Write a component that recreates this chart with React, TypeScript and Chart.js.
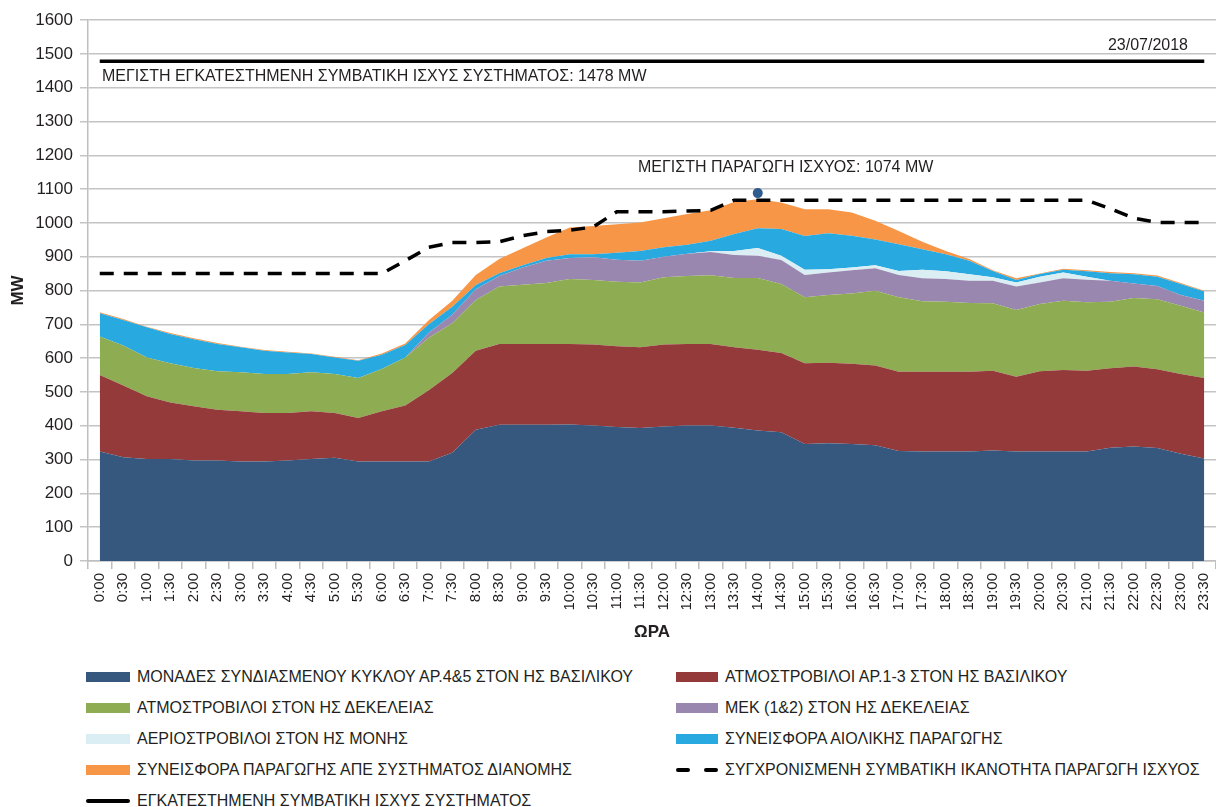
import React, { useEffect, useRef } from "react";
import { Chart, registerables } from "chart.js";

Chart.register(...registerables);

const FONT = "'Liberation Sans', Arial, sans-serif";
const TEXT = "#231F20";

const timeLabels = [
  "0:00", "0:30", "1:00", "1:30", "2:00", "2:30", "3:00", "3:30", "4:00", "4:30", "5:00", "5:30",
  "6:00", "6:30", "7:00", "7:30", "8:00", "8:30", "9:00", "9:30", "10:00", "10:30", "11:00", "11:30",
  "12:00", "12:30", "13:00", "13:30", "14:00", "14:30", "15:00", "15:30", "16:00", "16:30", "17:00", "17:30",
  "18:00", "18:30", "19:00", "19:30", "20:00", "20:30", "21:00", "21:30", "22:00", "22:30", "23:00", "23:30",
];

const ccgtVasilikos = [
  324, 307, 302, 302, 297, 297, 294, 294, 297, 302, 305, 294,
  294, 294, 294, 320, 388, 403, 403, 403, 404, 401, 396, 393,
  398, 401, 401, 394, 386, 381, 346, 348, 346, 342, 325, 324,
  324, 324, 327, 324, 324, 324, 324, 335, 339, 334, 317, 303,
];
const steamVasilikos = [
  226, 212, 185, 167, 161, 150, 149, 144, 141, 141, 133, 129,
  149, 166, 211, 236, 234, 239, 239, 239, 238, 239, 239, 239,
  242, 241, 241, 238, 239, 234, 239, 238, 237, 236, 235, 236,
  236, 236, 236, 221, 237, 241, 239, 235, 236, 233, 236, 238,
];
const steamDekeleia = [
  114, 118, 115, 116, 113, 114, 115, 115, 115, 115, 115, 118,
  125, 142, 155, 147, 150, 170, 175, 180, 192, 191, 191, 192,
  199, 201, 203, 205, 212, 204, 195, 201, 208, 221, 220, 208,
  207, 203, 199, 197, 199, 205, 202, 197, 203, 207, 202, 194,
];
const mekDekeleia = [
  0, 0, 0, 0, 0, 0, 0, 0, 0, 0, 0, 0,
  0, 0, 15, 25, 32, 31, 51, 66, 62, 67, 65, 64,
  61, 66, 69, 68, 66, 71, 66, 66, 69, 67, 66, 68,
  67, 66, 67, 70, 64, 66, 67, 62, 43, 39, 32, 35,
];
const gasMonis = [
  0, 0, 0, 0, 0, 0, 0, 0, 0, 0, 0, 0,
  0, 0, 0, 0, 0, 0, 0, 0, 0, 0, 0, 0,
  0, 0, 2, 12, 23, 13, 15, 10, 8, 9, 12, 25,
  23, 19, 10, 12, 17, 17, 9, 0, 0, 0, 0, 0,
];
const windContribution = [
  69, 76, 89, 86, 85, 81, 74, 69, 64, 54, 49, 51,
  42, 37, 25, 24, 12, 8, 7, 8, 11, 9, 21, 29,
  28, 26, 31, 50, 58, 79, 100, 106, 94, 76, 79, 61,
  50, 40, 19, 7, 8, 8, 16, 22, 27, 28, 32, 27,
];
const distributionContribution = [
  3, 3, 2, 3, 3, 3, 2, 2, 2, 2, 2, 2,
  4, 4, 12, 18, 30, 42, 50, 61, 79, 84, 84, 84,
  86, 91, 90, 95, 86, 78, 79, 71, 69, 55, 39, 22,
  10, 5, 2, 5, 1, 3, 3, 4, 3, 3, 3, 2,
];
const synchronizedCapacity = [
  850, 850, 850, 850, 850, 850, 850, 850, 850, 850, 850, 850,
  850, 888, 928, 942, 942, 944, 962, 974, 978, 988, 1033, 1033,
  1033, 1035, 1037, 1067, 1067, 1067, 1067, 1067, 1067, 1067, 1067, 1067,
  1067, 1067, 1067, 1067, 1067, 1067, 1067, 1042, 1014, 1001, 1001, 1001,
];
const installedCapacity = [
  1478, 1478, 1478, 1478, 1478, 1478, 1478, 1478, 1478, 1478, 1478, 1478,
  1478, 1478, 1478, 1478, 1478, 1478, 1478, 1478, 1478, 1478, 1478, 1478,
  1478, 1478, 1478, 1478, 1478, 1478, 1478, 1478, 1478, 1478, 1478, 1478,
  1478, 1478, 1478, 1478, 1478, 1478, 1478, 1478, 1478, 1478, 1478, 1478,
];
const peakMarkerIndex = 28;
const peakMarkerValue = 1088;

const areaSeries = [
  { label: "ΜΟΝΑΔΕΣ ΣΥΝΔΙΑΣΜΕΝΟΥ ΚΥΚΛΟΥ ΑΡ.4&5 ΣΤΟΝ ΗΣ ΒΑΣΙΛΙΚΟΥ", data: ccgtVasilikos, color: "#36587F" },
  { label: "ΑΤΜΟΣΤΡΟΒΙΛΟΙ ΑΡ.1-3 ΣΤΟΝ ΗΣ ΒΑΣΙΛΙΚΟΥ", data: steamVasilikos, color: "#943A3B" },
  { label: "ΑΤΜΟΣΤΡΟΒΙΛΟΙ ΣΤΟΝ ΗΣ ΔΕΚΕΛΕΙΑΣ", data: steamDekeleia, color: "#8EAC52" },
  { label: "ΜΕΚ (1&2) ΣΤΟΝ ΗΣ ΔΕΚΕΛΕΙΑΣ", data: mekDekeleia, color: "#9A87B0" },
  { label: "ΑΕΡΙΟΣΤΡΟΒΙΛΟΙ ΣΤΟΝ ΗΣ ΜΟΝΗΣ", data: gasMonis, color: "#DAEEF4" },
  { label: "ΣΥΝΕΙΣΦΟΡΑ ΑΙΟΛΙΚΗΣ ΠΑΡΑΓΩΓΗΣ", data: windContribution, color: "#28AAE1" },
  { label: "ΣΥΝΕΙΣΦΟΡΑ ΠΑΡΑΓΩΓΗΣ ΑΠΕ ΣΥΣΤΗΜΑΤΟΣ ΔΙΑΝΟΜΗΣ", data: distributionContribution, color: "#F79646" },
];
const capacityLabel = "ΣΥΓΧΡΟΝΙΣΜΕΝΗ ΣΥΜΒΑΤΙΚΗ ΙΚΑΝΟΤΗΤΑ ΠΑΡΑΓΩΓΗ ΙΣΧΥΟΣ";
const installedLabel = "ΕΓΚΑΤΕΣΤΗΜΕΝΗ ΣΥΜΒΑΤΙΚΗ ΙΣΧΥΣ ΣΥΣΤΗΜΑΤΟΣ";

const annotationPlugin = {
  id: "annotations",
  afterDatasetsDraw(chart: any) {
    const { ctx } = chart;
    const y = chart.scales.y;
    ctx.save();
    ctx.fillStyle = TEXT;
    ctx.font = `16px ${FONT}`;
    ctx.textBaseline = "middle";
    ctx.textAlign = "left";
    ctx.fillText("ΜΕΓΙΣΤΗ ΕΓΚΑΤΕΣΤΗΜΕΝΗ ΣΥΜΒΑΤΙΚΗ ΙΣΧΥΣ ΣΥΣΤΗΜΑΤΟΣ: 1478 MW", 102, y.getPixelForValue(1434));
    ctx.fillText("ΜΕΓΙΣΤΗ ΠΑΡΑΓΩΓΗ ΙΣΧΥΟΣ: 1074 MW", 638, y.getPixelForValue(1163));
    ctx.textAlign = "right";
    ctx.fillText("23/07/2018", 1188, y.getPixelForValue(1525));
    ctx.restore();
  },
};

function ChartCanvas() {
  const ref = useRef<HTMLCanvasElement | null>(null);
  useEffect(() => {
    if (!ref.current) return;
    const datasets: any[] = areaSeries.map((s, i) => ({
      type: "line",
      label: s.label,
      data: s.data,
      backgroundColor: s.color,
      borderColor: s.color,
      borderWidth: 0,
      pointRadius: 0,
      fill: i === 0 ? "origin" : "-1",
      stack: "generation",
      order: 2,
      tension: 0,
    }));
    datasets.push({
      type: "line",
      label: capacityLabel,
      data: synchronizedCapacity,
      borderColor: "#000000",
      borderWidth: 3.5,
      borderDash: [14, 10],
      pointRadius: 0,
      fill: false,
      stack: "capacity",
      order: 0,
    });
    datasets.push({
      type: "line",
      label: installedLabel,
      data: installedCapacity,
      borderColor: "#000000",
      borderWidth: 3.5,
      pointRadius: 0,
      fill: false,
      stack: "installed",
      order: 0,
    });
    datasets.push({
      type: "line",
      label: "peak",
      data: timeLabels.map((_, i) => (i === peakMarkerIndex ? peakMarkerValue : null)),
      showLine: false,
      pointRadius: 5,
      pointBackgroundColor: "#2F5C8E",
      pointBorderWidth: 0,
      fill: false,
      stack: "marker",
      order: 0,
    });

    const chart = new Chart(ref.current, {
      type: "line",
      data: { labels: timeLabels, datasets },
      options: {
        responsive: false,
        animation: false,
        layout: { autoPadding: false, padding: { top: 20, left: 0, right: 0, bottom: 0 } },
        plugins: {
          legend: { display: false },
          tooltip: { enabled: false },
        },
        scales: {
          x: {
            type: "category",
            offset: true,
            grid: {
              display: true,
              drawOnChartArea: false,
              drawTicks: true,
              tickLength: 8,
              offset: true,
              color: "#BFBFBF",
              lineWidth: 1.5,
            },
            border: { display: true, color: "#BFBFBF", width: 1.5 },
            ticks: {
              autoSkip: false,
              minRotation: 90,
              maxRotation: 90,
              padding: 4,
              color: TEXT,
              font: { family: FONT, size: 15 },
            },
            title: {
              display: true,
              text: "ΩΡΑ",
              color: TEXT,
              font: { family: FONT, size: 17, weight: "bold" },
              padding: { top: 0, bottom: 7 },
            },
            afterFit: (s: any) => {
              s.height = 89;
              s.paddingLeft = 0;
              s.paddingRight = 0;
            },
          },
          y: {
            stacked: true,
            min: 0,
            max: 1600,
            grid: { color: "#C4C4C4", lineWidth: 1.5, tickLength: 8, drawTicks: true },
            border: { display: true, color: "#BFBFBF", width: 1.5 },
            ticks: {
              stepSize: 100,
              padding: 7,
              color: TEXT,
              font: { family: FONT, size: 17 },
              callback: (v: any) => String(v),
            },
            title: {
              display: true,
              text: "MW",
              color: TEXT,
              font: { family: FONT, size: 17, weight: "bold" },
              padding: { top: 8, bottom: 0 },
            },
            afterFit: (s: any) => {
              s.width = 88;
            },
          },
        },
      },
      plugins: [annotationPlugin],
    } as any);
    return () => chart.destroy();
  }, []);
  return <canvas ref={ref} width={1216} height={650} style={{ display: "block" }} />;
}

type LegendItem = { label: string; color: string; kind: "box" | "dash" | "line" };

const legendRows: LegendItem[][] = [
  [
    { label: areaSeries[0].label, color: areaSeries[0].color, kind: "box" },
    { label: areaSeries[1].label, color: areaSeries[1].color, kind: "box" },
  ],
  [
    { label: areaSeries[2].label, color: areaSeries[2].color, kind: "box" },
    { label: areaSeries[3].label, color: areaSeries[3].color, kind: "box" },
  ],
  [
    { label: areaSeries[4].label, color: areaSeries[4].color, kind: "box" },
    { label: areaSeries[5].label, color: areaSeries[5].color, kind: "box" },
  ],
  [
    { label: areaSeries[6].label, color: areaSeries[6].color, kind: "box" },
    { label: capacityLabel, color: "#000000", kind: "dash" },
  ],
  [{ label: installedLabel, color: "#000000", kind: "line" }],
];

function Marker({ item, width }: { item: LegendItem; width: number }) {
  if (item.kind === "box") {
    return <div style={{ width, height: 10, background: item.color }} />;
  }
  if (item.kind === "dash") {
    return (
      <div style={{ width, height: 4, display: "flex", justifyContent: "space-between" }}>
        <div style={{ width: 14, height: 4, background: item.color, borderRadius: 2 }} />
        <div style={{ width: 14, height: 4, background: item.color, borderRadius: 2 }} />
      </div>
    );
  }
  return <div style={{ width, height: 4, background: item.color, borderRadius: 2 }} />;
}

export default function App() {
  const rowY = [677, 708, 739, 770, 801];
  const cols = [
    { markerX: 86, markerW: 44, textX: 137 },
    { markerX: 676, markerW: 42, textX: 725 },
  ];
  return (
    <div
      style={{
        position: "absolute",
        left: 0,
        top: 0,
        width: 1216,
        height: 807,
        overflow: "hidden",
        background: "#ffffff",
        fontFamily: FONT,
      }}
    >
      <ChartCanvas />
      {legendRows.map((row, r) =>
        row.map((item, c) => (
          <React.Fragment key={`${r}-${c}`}>
            <div
              style={{
                position: "absolute",
                left: cols[c].markerX,
                top: rowY[r],
                transform: "translateY(-50%)",
              }}
            >
              <Marker item={item} width={cols[c].markerW} />
            </div>
            <div
              style={{
                position: "absolute",
                left: cols[c].textX,
                top: rowY[r],
                transform: "translateY(-50%)",
                fontSize: 16,
                lineHeight: "18px",
                color: TEXT,
                whiteSpace: "nowrap",
              }}
            >
              {item.label}
            </div>
          </React.Fragment>
        ))
      )}
    </div>
  );
}
